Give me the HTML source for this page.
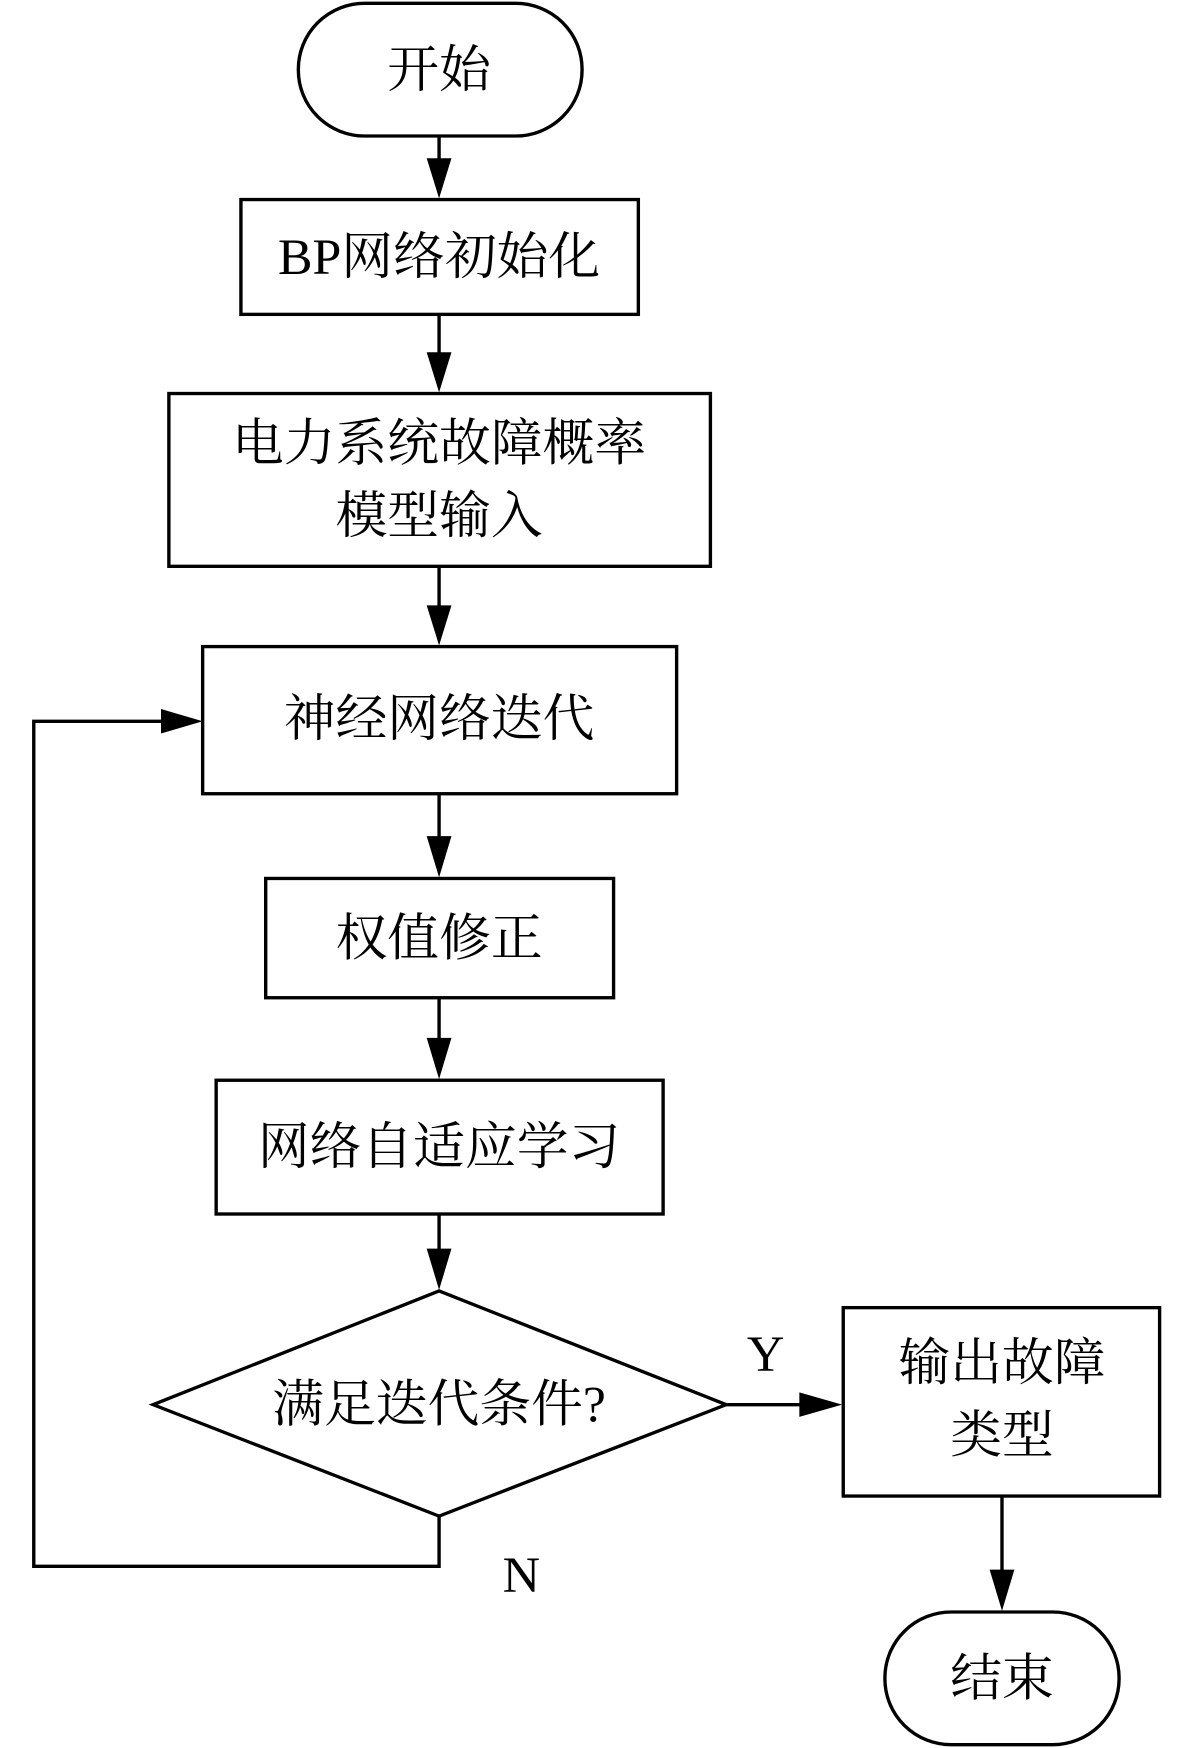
<!DOCTYPE html>
<html><head><meta charset="utf-8"><style>html,body{margin:0;padding:0;background:#fff}svg{display:block}</style></head>
<body>
<svg width="1181" height="1748" viewBox="0 0 1049 1568" preserveAspectRatio="none" xmlns="http://www.w3.org/2000/svg">
<defs>
<marker id="a" markerWidth="12" markerHeight="10" refX="12" refY="5" orient="auto" markerUnits="userSpaceOnUse" viewBox="0 0 12 10">
</marker>
</defs>
<g fill="none" stroke="#000" stroke-width="3">
<rect x="265" y="3" width="252" height="119" rx="59"/>
<rect x="214" y="179" width="353" height="103"/>
<rect x="150" y="353" width="481" height="155"/>
<rect x="180" y="580" width="421" height="132"/>
<rect x="236" y="788" width="309" height="107"/>
<rect x="192" y="969" width="397" height="120"/>
<polygon points="390,1158 645,1260 390,1360 136,1260"/>
<rect x="749" y="1173" width="281" height="169"/>
<rect x="786" y="1446" width="208" height="119" rx="59"/>
<line x1="390" y1="122" x2="390" y2="145"/>
<line x1="390" y1="282" x2="390" y2="318"/>
<line x1="390" y1="508" x2="390" y2="545"/>
<line x1="390" y1="712" x2="390" y2="752"/>
<line x1="390" y1="895" x2="390" y2="933"/>
<line x1="390" y1="1089" x2="390" y2="1122"/>
<line x1="645" y1="1260" x2="712" y2="1260"/>
<line x1="890" y1="1342" x2="890" y2="1410"/>
<polyline points="390,1360 390,1405 30,1405 30,647 145,647"/>
</g>
<g fill="#000">
<polygon points="379,142 401,142 390,178"/>
<polygon points="379,316 401,316 390,352"/>
<polygon points="379,543 401,543 390,579"/>
<polygon points="379,750 401,750 390,787"/>
<polygon points="379,931 401,931 390,968"/>
<polygon points="379,1120 401,1120 390,1157"/>
<polygon points="879,1408 901,1408 890,1445"/>
<polygon points="710,1249 710,1271 748,1260"/>
<polygon points="143,636 143,658 180,647"/>
</g>
<g font-family="Liberation Serif, Noto Serif CJK SC, serif" font-size="46" text-anchor="middle" fill="#000">
<text x="390" y="78">开始</text>
<text x="390" y="246">BP网络初始化</text>
<text x="390" y="413">电力系统故障概率</text>
<text x="390" y="478">模型输入</text>
<text x="390" y="660">神经网络迭代</text>
<text x="390" y="857">权值修正</text>
<text x="390" y="1044">网络自适应学习</text>
<text x="390" y="1275">满足迭代条件?</text>
<text x="890" y="1238">输出故障</text>
<text x="890" y="1303">类型</text>
<text x="890" y="1521">结束</text>
<text x="680" y="1230">Y</text>
<text x="463" y="1428">N</text>
</g>
</svg>
</body></html>
